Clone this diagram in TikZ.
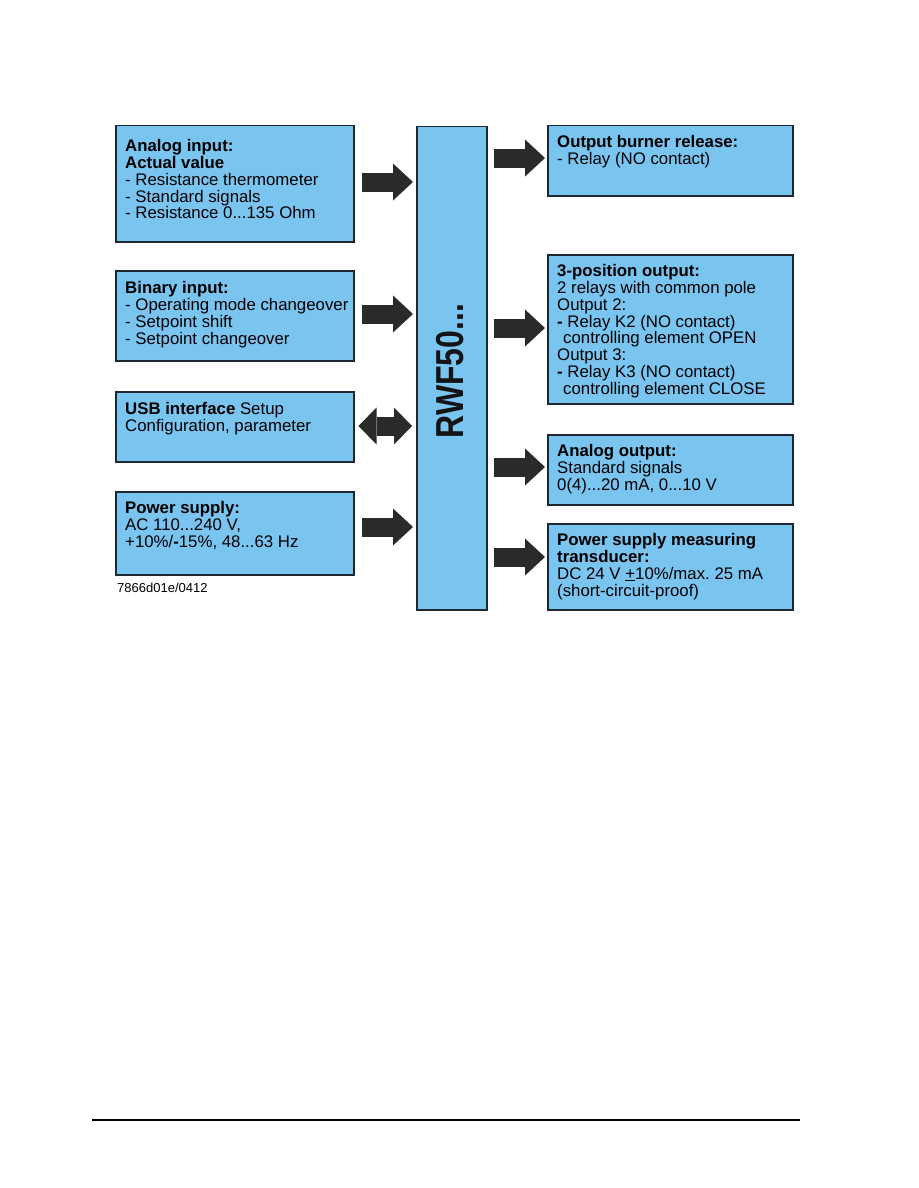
\documentclass[tikz,border=0pt]{standalone}
\usepackage{fontspec}
\setmainfont{Liberation Sans}
\usetikzlibrary{arrows.meta}
\definecolor{boxblue}{RGB}{122,196,240}
\definecolor{boxline}{RGB}{30,40,50}
\definecolor{arrowgray}{RGB}{42,42,42}
\newcommand\bodyfont{\fontsize{16.8pt}{16.9pt}\selectfont}
\frenchspacing
\begin{document}
\begin{tikzpicture}[x=1pt,y=-1pt,
  box/.style={draw=boxline, line width=1.5pt, fill=boxblue, anchor=north west, inner sep=0pt},
  txt/.style={anchor=north west, align=left, inner sep=0pt, font=\bodyfont, text=black},
  fat/.style={draw=arrowgray, line width=19pt, -{Triangle[length=20pt,width=37pt,line width=0pt]}},
  fatboth/.style={draw=arrowgray, line width=19pt, {Triangle[length=18pt,width=37pt,line width=0pt]}-{Triangle[length=18pt,width=37pt,line width=0pt]}}
]
\useasboundingbox (0,0) rectangle (918,1188);
\fill[white] (0,0) rectangle (918,1188);

% boxes
\node[box, minimum width=238pt, minimum height=116pt] (b1) at (115,125) {};
\node[box, minimum width=238pt, minimum height=90pt]  (b2) at (115,270) {};
\node[box, minimum width=238pt, minimum height=70pt]  (b3) at (115,391) {};
\node[box, minimum width=238pt, minimum height=83pt]  (b4) at (115,491) {};
\node[box, minimum width=70pt,  minimum height=483pt] (c)  at (416,126) {};
\node[box, minimum width=245pt, minimum height=70pt]  (r1) at (547,125) {};
\node[box, minimum width=245pt, minimum height=149pt] (r2) at (547,254) {};
\node[box, minimum width=245pt, minimum height=70pt]  (r3) at (547,434) {};
\node[box, minimum width=245pt, minimum height=86pt]  (r4) at (547,523) {};

% texts
\node[txt] (t1) at ([shift={(10,14)}]b1.north west) {\textbf{Analog input:}\\ \textbf{Actual value}\\ - Resistance thermometer\\ - Standard signals\\ - Resistance 0...135 Ohm};
\node[txt] (t2) at ([shift={(10,11)}]b2.north west) {\textbf{Binary input:}\\ - Operating mode changeover\\ - Setpoint shift\\ - Setpoint changeover};
\node[txt] (t3) at ([shift={(10,11)}]b3.north west) {\textbf{USB interface} Setup\\ Configuration, parameter};
\node[txt] (t4) at ([shift={(10,10)}]b4.north west) {\textbf{Power supply:}\\ AC 110...240 V,\\ +10\%/\textbf{-}15\%, 48...63 Hz};
\node[txt] (s1) at ([shift={(10,10)}]r1.north west) {\textbf{Output burner release:}\\ - Relay (NO contact)};
\node[txt] (s2) at ([shift={(10,10)}]r2.north west) {\textbf{3-position output:}\\ 2 relays with common pole\\ Output 2:\\ \textbf{-} Relay K2 (NO contact)\\ \hspace*{6pt}controlling element OPEN\\ Output 3:\\ \textbf{-} Relay K3 (NO contact)\\ \hspace*{6pt}controlling element CLOSE};
\node[txt] (s3) at ([shift={(10,10)}]r3.north west) {\textbf{Analog output:}\\ Standard signals\\ 0(4)...20 mA, 0...10 V};
\node[txt] (s4) at ([shift={(10,10)}]r4.north west) {\textbf{Power supply measuring}\\ \textbf{transducer:}\\ DC 24 V \underline{+}10\%/max. 25 mA\\ (short-circuit-proof)};

\node[rotate=90, inner sep=0pt, font=\fontsize{39pt}{40pt}\selectfont\bfseries, text=black!92] (lbl) at ([shift={(-2,3)}]c.center) {\scalebox{0.82}[1]{RWF50...}};

\node[anchor=base west, inner sep=0pt, font=\fontsize{13pt}{15pt}\selectfont] (code) at (117,592) {7866d01e/0412};

% arrow levels
\coordinate (y1) at (0,182);
\coordinate (y2) at (0,314);
\coordinate (y3) at (0,426);
\coordinate (y4) at (0,527);
\coordinate (z1) at (0,158);
\coordinate (z2) at (0,328);
\coordinate (z3) at (0,467);
\coordinate (z4) at (0,557);

\draw[fat, shorten <=7pt, shorten >=3pt] (b1.east |- y1) -- (c.west |- y1);
\draw[fat, shorten <=7pt, shorten >=3pt] (b2.east |- y2) -- (c.west |- y2);
\draw[fatboth, shorten <=4pt, shorten >=4pt] (b3.east |- y3) -- (c.west |- y3);
\draw[fat, shorten <=7pt, shorten >=3pt] (b4.east |- y4) -- (c.west |- y4);

\draw[fat, shorten <=6pt, shorten >=2pt] (c.east |- z1) -- (r1.west |- z1);
\draw[fat, shorten <=6pt, shorten >=2pt] (c.east |- z2) -- (r2.west |- z2);
\draw[fat, shorten <=6pt, shorten >=2pt] (c.east |- z3) -- (r3.west |- z3);
\draw[fat, shorten <=6pt, shorten >=2pt] (c.east |- z4) -- (r4.west |- z4);

% footer rule
\coordinate (fl) at (92,1120);
\coordinate (fr) at (800,1120);
\draw[line width=1.3pt] (fl) -- (fr);
\end{tikzpicture}
\end{document}
